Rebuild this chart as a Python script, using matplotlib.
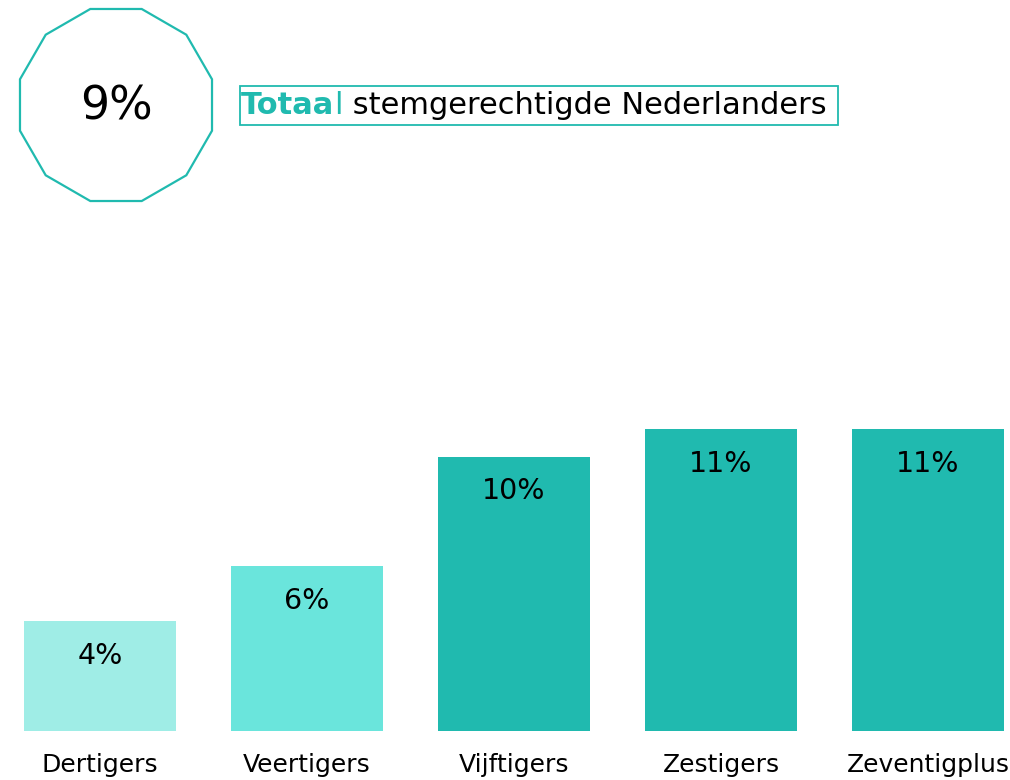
import numpy as np
import matplotlib.pyplot as plt
from matplotlib.patches import RegularPolygon, Rectangle

plt.rcParams['font.family'] = ['DejaVu Sans']

# data
categories = ['Dertigers', 'Veertigers', 'Vijftigers', 'Zestigers', 'Zeventigplus']
values = [4, 6, 10, 11, 11]
bar_colors = ['#9FEDE6', '#6AE5DC', '#20BAAF', '#20BAAF', '#20BAAF']
total_value = 9
title_bold = 'Totaa'
title_rest = 'l'
title_tail = ' stemgerechtigde Nederlanders'
teal = '#20BAAF'

W, H = 1010, 780
fig = plt.figure(figsize=(W / 100, H / 100), dpi=100)

# bar chart, placed in pixels
x0, x1 = 24, 1004
base = 731
px_per = 27.45
ytop = 12
ax = fig.add_axes([x0 / W, (H - base) / H, (x1 - x0) / W, ytop * px_per / H])
x = np.arange(len(categories))
bw = 152 / 207
bars = ax.bar(x, values, width=bw, color=bar_colors)
ax.set_xlim(-bw / 2, len(categories) - 1 + bw / 2)
ax.set_ylim(0, ytop)
for b, v in zip(bars, values):
    ax.annotate(f'{v}%', (b.get_x() + b.get_width() / 2, v), xytext=(0, -25),
                textcoords='offset points', ha='center', va='center',
                fontsize=20.5, color='black')
ax.set_xticks(x)
ax.set_xticklabels(categories, fontsize=18)
ax.tick_params(axis='x', length=0, pad=16)
ax.set_yticks([])
for s in ax.spines.values():
    s.set_visible(False)

# overlay in pixel coords for the header
ov = fig.add_axes([0, 0, 1, 1])
ov.set_xlim(0, W)
ov.set_ylim(H, 0)
ov.axis('off')
ov.patch.set_alpha(0)

poly = RegularPolygon((116, 105), numVertices=12, radius=99.4, orientation=np.pi / 12,
                      facecolor='none', edgecolor=teal, lw=1.6)
ov.add_patch(poly)
ov.text(116, 107, f'{total_value}%', ha='center', va='center', fontsize=33, color='black')

ov.add_patch(Rectangle((240, 86), 598, 39, facecolor='none', edgecolor=teal, lw=1.3))

# title pieces laid out one after another
fig.canvas.draw()
r = fig.canvas.get_renderer()
inv = ov.transData.inverted()
tx = 241
ty = 106
pieces = [(title_bold, teal, 'bold'), (title_rest, teal, 'normal'), (title_tail, 'black', 'normal')]
for s, c, w in pieces:
    t = ov.text(tx, ty, s, ha='left', va='center', fontsize=22, color=c, fontweight=w)
    bb = t.get_window_extent(renderer=r)
    tx = inv.transform((bb.x1, bb.y0))[0]

fig.savefig('out.png', dpi=100)
